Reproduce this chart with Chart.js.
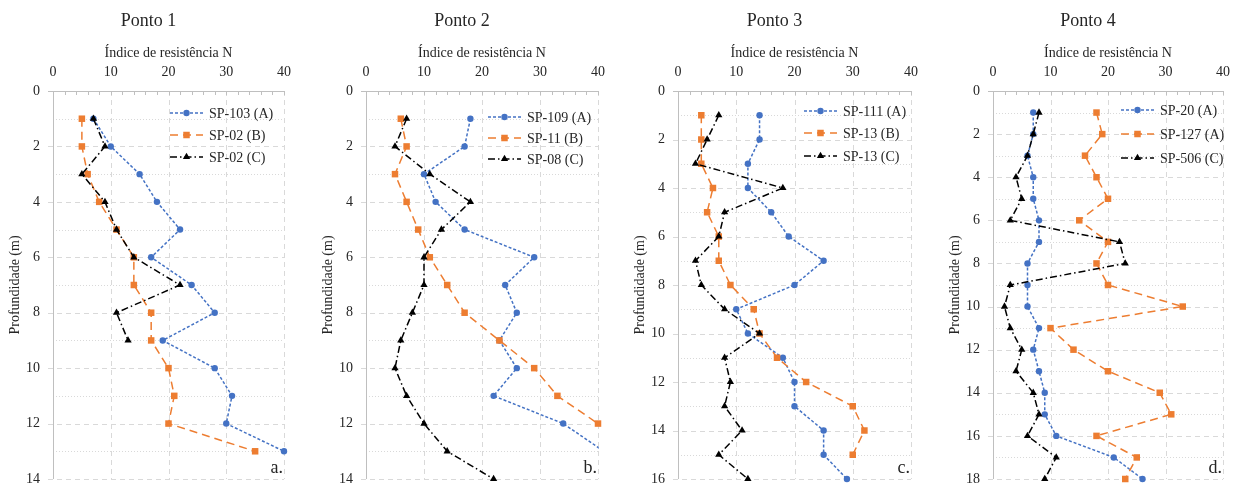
<!DOCTYPE html>
<html><head><meta charset="utf-8">
<script src="https://cdn.jsdelivr.net/npm/chart.js@4.4.0/dist/chart.umd.min.js"></script>
<style>
html,body{margin:0;padding:0;background:#fff;}
#wrap{position:relative;width:1235px;height:486px;overflow:hidden;background:#fff;}
.pan{position:absolute;top:0;height:486px;}
canvas{display:block;}
</style></head><body><div id="wrap">
<div class="pan" style="left:0px"><canvas id="c0" width="309" height="486"></canvas></div>
<div class="pan" style="left:313px"><canvas id="c1" width="309" height="486"></canvas></div>
<div class="pan" style="left:625px"><canvas id="c2" width="309" height="486"></canvas></div>
<div class="pan" style="left:940px"><canvas id="c3" width="295" height="486"></canvas></div>
</div>
<script>
// ---------- DATA ----------
const panelTitles = ['Ponto 1', 'Ponto 2', 'Ponto 3', 'Ponto 4'];
const panelLetters = ['a.', 'b.', 'c.', 'd.'];
const xAxisTitle = 'Índice de resistência N';
const yAxisTitle = 'Profundidade (m)';
const xTickValues = [0, 10, 20, 30, 40];
const yTicks1 = [0, 2, 4, 6, 8, 10, 12, 14];
const yTicks2 = [0, 2, 4, 6, 8, 10, 12, 14];
const yTicks3 = [0, 2, 4, 6, 8, 10, 12, 14, 16];
const yTicks4 = [0, 2, 4, 6, 8, 10, 12, 14, 16, 18];

// Ponto 1
const p1Names = ['SP-103 (A)', 'SP-02 (B)', 'SP-02 (C)'];
const p1DepthA = [1, 2, 3, 4, 5, 6, 7, 8, 9, 10, 11, 12, 13];
const p1A = [7, 10, 15, 18, 22, 17, 24, 28, 19, 28, 31, 30, 40];
const p1DepthB = [1, 2, 3, 4, 5, 6, 7, 8, 9, 10, 11, 12, 13];
const p1B = [5, 5, 6, 8, 11, 14, 14, 17, 17, 20, 21, 20, 35];
const p1DepthC = [1, 2, 3, 4, 5, 6, 7, 8, 9];
const p1C = [7, 9, 5, 9, 11, 14, 22, 11, 13];

// Ponto 2
const p2Names = ['SP-109 (A)', 'SP-11 (B)', 'SP-08 (C)'];
const p2DepthA = [1, 2, 3, 4, 5, 6, 7, 8, 9, 10, 11, 12, 13];
const p2A = [18, 17, 10, 12, 17, 29, 24, 26, 23, 26, 22, 34, 41];
const p2DepthB = [1, 2, 3, 4, 5, 6, 7, 8, 9, 10, 11, 12];
const p2B = [6, 7, 5, 7, 9, 11, 14, 17, 23, 29, 33, 40];
const p2DepthC = [1, 2, 3, 4, 5, 6, 7, 8, 9, 10, 11, 12, 13, 14];
const p2C = [7, 5, 11, 18, 13, 10, 10, 8, 6, 5, 7, 10, 14, 22];

// Ponto 3
const p3Names = ['SP-111 (A)', 'SP-13 (B)', 'SP-13 (C)'];
const p3DepthA = [1, 2, 3, 4, 5, 6, 7, 8, 9, 10, 11, 12, 13, 14, 15, 16];
const p3A = [14, 14, 12, 12, 16, 19, 25, 20, 10, 12, 18, 20, 20, 25, 25, 29];
const p3DepthB = [1, 2, 3, 4, 5, 6, 7, 8, 9, 10, 11, 12, 13, 14, 15];
const p3B = [4, 4, 4, 6, 5, 7, 7, 9, 13, 14, 17, 22, 30, 32, 30];
const p3DepthC = [1, 2, 3, 4, 5, 6, 7, 8, 9, 10, 11, 12, 13, 14, 15, 16];
const p3C = [7, 5, 3, 18, 8, 7, 3, 4, 8, 14, 8, 9, 8, 11, 7, 12];

// Ponto 4
const p4Names = ['SP-20 (A)', 'SP-127 (A)', 'SP-506 (C)'];
const p4DepthA = [1, 2, 3, 4, 5, 6, 7, 8, 9, 10, 11, 12, 13, 14, 15, 16, 17, 18];
const p4A = [7, 7, 6, 7, 7, 8, 8, 6, 6, 6, 8, 7, 8, 9, 9, 11, 21, 26];
const p4DepthB = [1, 2, 3, 4, 5, 6, 7, 8, 9, 10, 11, 12, 13, 14, 15, 16, 17, 18];
const p4B = [18, 19, 16, 18, 20, 15, 20, 18, 20, 33, 10, 14, 20, 29, 31, 18, 25, 23];
const p4DepthC = [1, 2, 3, 4, 5, 6, 7, 8, 9, 10, 11, 12, 13, 14, 15, 16, 17, 18];
const p4C = [8, 7, 6, 4, 5, 3, 22, 23, 3, 2, 3, 5, 4, 7, 8, 6, 11, 9];

// ---------- LAYOUT / STYLE ----------
const FONT = '"Liberation Serif", "Times New Roman", serif';
const TXT = '#262626';
const GRID = '#d9d9d9';
const AXIS = '#bfbfbf';
const layouts = [
  {left: 0,   width: 309, plotL: 53,  plotR: 284,  legX: 170,  legY: [113, 135, 157]},
  {left: 313, width: 309, plotL: 366, plotR: 598,  legX: 488,  legY: [117, 138, 159]},
  {left: 625, width: 309, plotL: 678, plotR: 911,  legX: 804,  legY: [111, 133, 156]},
  {left: 940, width: 295, plotL: 993, plotR: 1223, legX: 1121, legY: [110, 134, 158]}
];
const seriesStyles = [
  {color: '#4472C4', dash: [3, 2],       pointStyle: 'circle',   radius: 3.2, order: 2},
  {color: '#ED7D31', dash: [8, 5],       pointStyle: 'rect',     radius: 4.6, order: 1},
  {color: '#000000', dash: [7, 3, 1.5, 3], pointStyle: 'triangle', radius: 4.2, order: 0}
];

const panels = [
  {names: p1Names, depths: [p1DepthA, p1DepthB, p1DepthC], values: [p1A, p1B, p1C], yTicks: yTicks1},
  {names: p2Names, depths: [p2DepthA, p2DepthB, p2DepthC], values: [p2A, p2B, p2C], yTicks: yTicks2},
  {names: p3Names, depths: [p3DepthA, p3DepthB, p3DepthC], values: [p3A, p3B, p3C], yTicks: yTicks3},
  {names: p4Names, depths: [p4DepthA, p4DepthB, p4DepthC], values: [p4A, p4B, p4C], yTicks: yTicks4}
];

function drawMarker(ctx, style, r, x, y) {
  ctx.beginPath();
  if (style === 'circle') {
    ctx.arc(x, y, r, 0, Math.PI * 2);
  } else if (style === 'rect') {
    const s = r * Math.SQRT1_2;
    ctx.rect(x - s, y - s, 2 * s, 2 * s);
  } else {
    let rad = 0;
    ctx.moveTo(x + Math.sin(rad) * r, y - Math.cos(rad) * r);
    rad += 2 * Math.PI / 3;
    ctx.lineTo(x + Math.sin(rad) * r, y - Math.cos(rad) * r);
    rad += 2 * Math.PI / 3;
    ctx.lineTo(x + Math.sin(rad) * r, y - Math.cos(rad) * r);
    ctx.closePath();
  }
  ctx.fill();
}

const gridPlugin = {
  id: 'excelGrid',
  beforeDatasetsDraw(chart) {
    const {ctx, chartArea: ca, scales: {x, y}} = chart;
    const maxD = y.max;
    ctx.save();
    ctx.lineWidth = 1;
    ctx.strokeStyle = GRID;
    for (let d = 1; d <= maxD; d++) {
      const py = Math.round(y.getPixelForValue(d)) + 0.5;
      ctx.setLineDash(d % 2 === 0 ? [5, 4] : [1, 2]);
      ctx.beginPath();
      ctx.moveTo(d % 2 === 0 ? ca.left - 5 : ca.left, py);
      ctx.lineTo(ca.right, py);
      ctx.stroke();
    }
    ctx.setLineDash([5, 4]);
    for (let v = 10; v <= 40; v += 10) {
      const px = Math.round(x.getPixelForValue(v)) + 0.5;
      ctx.beginPath();
      ctx.moveTo(px, ca.top);
      ctx.lineTo(px, ca.bottom);
      ctx.stroke();
    }
    ctx.setLineDash([]);
    ctx.strokeStyle = AXIS;
    const top = Math.round(ca.top) + 0.5;
    const left = Math.round(ca.left) + 0.5;
    ctx.beginPath();
    ctx.moveTo(ca.left - 5, top); ctx.lineTo(ca.right, top);
    ctx.moveTo(left, ca.top); ctx.lineTo(left, ca.bottom);
    for (let v = 2; v <= 40; v += 2) {
      const px = Math.round(x.getPixelForValue(v)) + 0.5;
      ctx.moveTo(px, ca.top); ctx.lineTo(px, ca.top + 4);
    }
    ctx.stroke();
    ctx.restore();
  },
  afterDraw(chart) {
    const o = chart.options.plugins.excelGrid;
    const {ctx, chartArea: ca} = chart;
    ctx.save();
    ctx.fillStyle = TXT;
    ctx.textBaseline = 'alphabetic';
    ctx.font = '18px ' + FONT;
    ctx.textAlign = 'center';
    ctx.fillText(o.title, (ca.left + ca.right) / 2 - 20, 26);
    ctx.textAlign = 'right';
    ctx.fillText(o.letter, ca.right - 1, ca.bottom - 6);
    const lx = o.legX - o.offset;
    chart.data.datasets.forEach((ds, i) => {
      const st = seriesStyles[i];
      const ly = o.legY[i];
      ctx.strokeStyle = st.color;
      ctx.lineWidth = 1.5;
      ctx.setLineDash(st.dash);
      ctx.beginPath();
      ctx.moveTo(lx, ly); ctx.lineTo(lx + 33, ly);
      ctx.stroke();
      ctx.setLineDash([]);
      ctx.fillStyle = st.color;
      drawMarker(ctx, st.pointStyle, st.radius, lx + 16.5, ly);
      ctx.fillStyle = TXT;
      ctx.font = '14px ' + FONT;
      ctx.textAlign = 'left';
      ctx.textBaseline = 'middle';
      ctx.fillText(ds.label, lx + 39, ly + 1);
    });
    ctx.restore();
  }
};

panels.forEach((p, k) => {
  const L = layouts[k];
  const datasets = p.values.map((vals, i) => {
    const st = seriesStyles[i];
    const overflows = vals.some(v => v > 40);
    return {
      label: p.names[i],
      data: vals.map((v, j) => ({x: v, y: p.depths[i][j]})),
      showLine: true,
      borderColor: st.color,
      backgroundColor: st.color,
      borderWidth: 1.5,
      borderDash: st.dash,
      pointStyle: st.pointStyle,
      pointRadius: st.radius,
      pointBorderWidth: 0,
      pointBackgroundColor: st.color,
      order: st.order,
      tension: 0,
      clip: {left: 5, top: 5, right: overflows ? 0.75 : 5, bottom: 6}
    };
  });
  new Chart(document.getElementById('c' + k), {
    type: 'scatter',
    data: {datasets},
    plugins: [gridPlugin],
    options: {
      responsive: false,
      animation: false,
      events: [],
      layout: {padding: {left: 0, top: 0, right: L.left + L.width - L.plotR, bottom: 7}},
      plugins: {
        legend: {display: false},
        tooltip: {enabled: false},
        excelGrid: {title: panelTitles[k], letter: panelLetters[k], legX: L.legX, legY: L.legY, offset: L.left}
      },
      scales: {
        x: {
          type: 'linear', position: 'top', min: 0, max: 40,
          afterBuildTicks: s => { s.ticks = xTickValues.map(v => ({value: v})); },
          ticks: {padding: 10, font: {family: FONT, size: 14}, color: TXT, maxRotation: 0},
          grid: {display: false, drawTicks: false},
          border: {display: false},
          title: {display: true, text: xAxisTitle, color: TXT, font: {family: FONT, size: 14}, padding: {top: 45, bottom: 0}},
          afterFit: s => { s.height = 91; s.paddingLeft = 0; s.paddingRight = 0; }
        },
        y: {
          type: 'linear', reverse: true, min: 0, max: p.yTicks[p.yTicks.length - 1],
          afterBuildTicks: s => { s.ticks = p.yTicks.map(v => ({value: v})); },
          ticks: {padding: 13, font: {family: FONT, size: 14}, color: TXT},
          grid: {display: false, drawTicks: false},
          border: {display: false},
          title: {display: true, text: yAxisTitle, color: TXT, font: {family: FONT, size: 14}, padding: {top: 7, bottom: 0}},
          afterFit: s => { s.width = L.plotL - L.left; s.paddingTop = 0; s.paddingBottom = 0; }
        }
      }
    }
  });
});
</script></body></html>
